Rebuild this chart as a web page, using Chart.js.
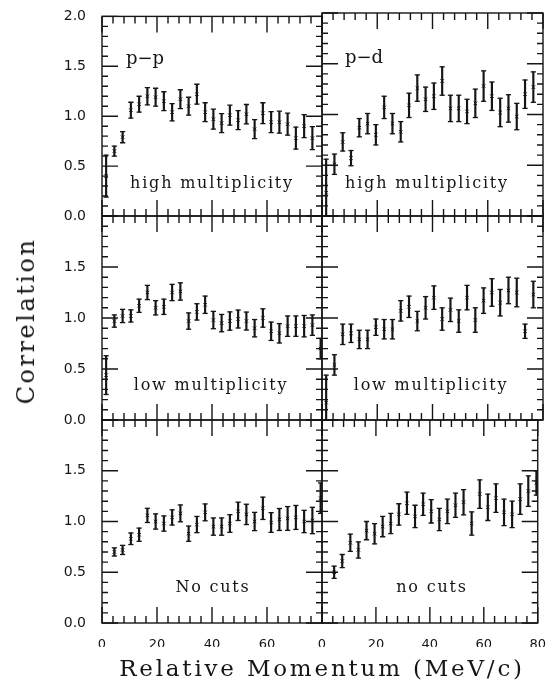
<!DOCTYPE html>
<html>
<head>
<meta charset="utf-8">
<script src="https://cdn.jsdelivr.net/npm/chart.js@4.4.1/dist/chart.umd.min.js"></script>
<style>
body{margin:0;background:#fff}
#wrap{position:relative;width:552px;height:685px;overflow:hidden;background:#fff}
#wrap canvas{position:absolute;left:0;top:0}
.lbl{position:absolute;font-family:"DejaVu Serif",serif;color:#151515;white-space:nowrap;line-height:1;transform:translate(-50%,-50%)}
</style>
</head>
<body>
<div id="wrap">
  <canvas id="c0" width="552" height="685"></canvas>
  <canvas id="c1" width="552" height="685"></canvas>
  <canvas id="c2" width="552" height="685"></canvas>
  <canvas id="c3" width="552" height="685"></canvas>
  <canvas id="c4" width="552" height="685"></canvas>
  <canvas id="c5" width="552" height="685"></canvas>

  <div class="lbl" style="left:26px;top:321px;font-size:24px;letter-spacing:2.5px;transform:translate(-50%,-50%) rotate(-90deg)">Correlation</div>
  <div class="lbl" style="left:322px;top:668px;font-size:23px;letter-spacing:2.8px">Relative Momentum (MeV/c)</div>

  <div class="lbl" style="left:145px;top:58px;font-size:18px">p−p</div>
  <div class="lbl" style="left:364px;top:57px;font-size:18px">p−d</div>
  <div class="lbl" style="left:212px;top:183px;font-size:16px;letter-spacing:1.8px">high multiplicity</div>
  <div class="lbl" style="left:427px;top:183px;font-size:16px;letter-spacing:1.8px">high multiplicity</div>
  <div class="lbl" style="left:211px;top:385px;font-size:16px;letter-spacing:1.8px">low multiplicity</div>
  <div class="lbl" style="left:431px;top:385px;font-size:16px;letter-spacing:1.8px">low multiplicity</div>
  <div class="lbl" style="left:213px;top:587px;font-size:16px;letter-spacing:1.8px">No cuts</div>
  <div class="lbl" style="left:432px;top:587px;font-size:16px;letter-spacing:1.8px">no cuts</div>
</div>
<script>
// p-p, high multiplicity
const ppHighX = [1.5,4.5,7.5,10.5,13.5,16.5,19.5,22.5,25.5,28.5,31.5,34.5,37.5,40.5,43.5,46.5,49.5,52.5,55.5,58.5,61.5,64.5,67.5,70.5,73.5,76.5];
const ppHighY = [0.40,0.65,0.79,1.06,1.12,1.20,1.19,1.15,1.04,1.17,1.10,1.22,1.04,0.97,0.93,1.01,0.96,1.02,0.87,1.03,0.94,0.94,0.92,0.78,0.90,0.78];
const ppHighErr = [0.21,0.05,0.056,0.08,0.08,0.087,0.09,0.095,0.087,0.095,0.09,0.10,0.095,0.10,0.095,0.10,0.095,0.097,0.095,0.105,0.105,0.11,0.11,0.11,0.115,0.115];

// p-d, high multiplicity
const pdHighX = [1.5,4.5,7.5,10.5,13.5,16.5,19.5,22.5,25.5,28.5,31.5,34.5,37.5,40.5,43.5,46.5,49.5,52.5,55.5,58.5,61.5,64.5,67.5,70.5,73.5,76.5];
const pdHighY = [0.23,0.51,0.73,0.57,0.87,0.91,0.80,1.07,0.91,0.83,1.09,1.26,1.15,1.18,1.33,1.06,1.06,1.03,1.11,1.28,1.18,1.02,1.06,0.98,1.20,1.27];
const pdHighErr = [0.33,0.10,0.09,0.075,0.09,0.10,0.10,0.11,0.10,0.10,0.12,0.13,0.12,0.13,0.14,0.13,0.13,0.12,0.14,0.15,0.14,0.14,0.135,0.13,0.14,0.15];

// p-p, low multiplicity
const ppLowX = [1.5,4.5,7.5,10.5,13.5,16.5,19.5,22.5,25.5,28.5,31.5,34.5,37.5,40.5,43.5,46.5,49.5,52.5,55.5,58.5,61.5,64.5,67.5,70.5,73.5,76.5,79.5];
const ppLowY = [0.44,0.97,1.02,1.02,1.12,1.25,1.10,1.11,1.25,1.26,0.97,1.06,1.13,0.98,0.95,0.97,0.99,0.97,0.90,1.00,0.87,0.85,0.92,0.92,0.92,0.93,0.70];
const ppLowErr = [0.19,0.06,0.065,0.06,0.065,0.07,0.07,0.075,0.08,0.085,0.08,0.08,0.085,0.085,0.085,0.09,0.088,0.088,0.085,0.09,0.09,0.095,0.10,0.10,0.105,0.10,0.10];

// p-d, low multiplicity
const pdLowX = [1.5,4.5,7.5,10.5,13.5,16.5,19.5,22.5,25.5,28.5,31.5,34.5,37.5,40.5,43.5,46.5,49.5,52.5,55.5,58.5,61.5,64.5,67.5,70.5,73.5,76.5];
const pdLowY = [0.17,0.54,0.84,0.85,0.79,0.79,0.91,0.89,0.89,1.07,1.11,0.97,1.10,1.20,0.99,1.08,0.97,1.20,0.98,1.17,1.25,1.15,1.27,1.25,0.87,1.23];
const pdLowErr = [0.27,0.10,0.10,0.09,0.09,0.09,0.08,0.095,0.095,0.10,0.105,0.095,0.11,0.115,0.11,0.115,0.11,0.12,0.12,0.125,0.135,0.13,0.13,0.14,0.07,0.13];

// p-p, no cuts
const ppAllX = [4.5,7.5,10.5,13.5,16.5,19.5,22.5,25.5,28.5,31.5,34.5,37.5,40.5,43.5,46.5,49.5,52.5,55.5,58.5,61.5,64.5,67.5,70.5,73.5,76.5,79.5];
const ppAllY = [0.70,0.72,0.83,0.87,1.06,1.00,0.98,1.04,1.08,0.88,0.97,1.09,0.95,0.95,0.98,1.10,1.07,1.00,1.13,0.99,1.02,1.03,1.04,1.00,1.01,1.23];
const ppAllErr = [0.04,0.045,0.057,0.065,0.07,0.075,0.075,0.075,0.083,0.075,0.08,0.083,0.085,0.085,0.087,0.09,0.10,0.09,0.11,0.097,0.108,0.117,0.118,0.11,0.13,0.15];

// p-d, no cuts
const pdAllX = [4.5,7.5,10.5,13.5,16.5,19.5,22.5,25.5,28.5,31.5,34.5,37.5,40.5,43.5,46.5,49.5,52.5,55.5,58.5,61.5,64.5,67.5,70.5,73.5,76.5,79.5];
const pdAllY = [0.50,0.61,0.79,0.72,0.91,0.88,0.95,0.98,1.07,1.18,1.05,1.17,1.10,1.02,1.10,1.16,1.19,0.98,1.27,1.14,1.23,1.09,1.07,1.22,1.30,1.38];
const pdAllErr = [0.06,0.065,0.085,0.08,0.09,0.10,0.10,0.10,0.105,0.11,0.11,0.11,0.115,0.11,0.12,0.12,0.125,0.115,0.14,0.13,0.14,0.13,0.13,0.15,0.15,0.12];

const ink = '#151515';
const colEdges = [[102, 322], [322, 543]];
const rowEdges = [[13, 216], [216, 420], [420, 623]];

// frame + inward ticks on all four sides
const frame = {
  id: 'frame',
  afterDatasetsDraw(chart) {
    const {ctx, chartArea: a, scales: {x, y}} = chart;
    ctx.save();
    ctx.strokeStyle = ink;
    ctx.lineWidth = 1.4;
    ctx.strokeRect(a.left, a.top, a.right - a.left, a.bottom - a.top);
    ctx.beginPath();
    for (let v = 0; v <= 80; v += 4) {
      const px = x.getPixelForValue(v);
      const len = v % 20 === 0 ? 16 : 7;
      ctx.moveTo(px, a.bottom); ctx.lineTo(px, a.bottom - len);
      ctx.moveTo(px, a.top); ctx.lineTo(px, a.top + len);
    }
    for (let k = 0; k <= 20; k++) {
      const py = y.getPixelForValue(k / 10);
      const len = k % 5 === 0 ? 16 : 6;
      ctx.moveTo(a.left, py); ctx.lineTo(a.left + len, py);
      ctx.moveTo(a.right, py); ctx.lineTo(a.right - len, py);
    }
    ctx.stroke();
    ctx.restore();
  }
};

function makePanel(id, col, row, xs, ys, errs) {
  const [l, r] = colEdges[col];
  const [t, b] = rowEdges[row];
  const yw = col === 0 ? 40 : 0;
  const xh = row === 2 ? 24 : 0;
  const lo = ys.map((v, i) => v - errs[i]);
  const hi = ys.map((v, i) => v + errs[i]);

  new Chart(document.getElementById(id), {
    type: 'scatter',
    data: {
      datasets: [
        {
          type: 'bar',
          data: xs.map((x, i) => ({x: x, y: [lo[i], hi[i]]})),
          backgroundColor: ink,
          borderWidth: 0,
          barThickness: 1.5,
          grouped: false
        },
        {
          data: xs.map((x, i) => ({x: x, y: lo[i]})),
          pointStyle: 'line', pointRadius: 2.6, borderColor: ink, borderWidth: 1.3
        },
        {
          data: xs.map((x, i) => ({x: x, y: hi[i]})),
          pointStyle: 'line', pointRadius: 2.6, borderColor: ink, borderWidth: 1.3
        },
        {
          data: xs.map((x, i) => ({x: x, y: ys[i]})),
          pointStyle: 'crossRot', pointRadius: 2.4, borderColor: ink, borderWidth: 1
        }
      ]
    },
    options: {
      responsive: false,
      animation: false,
      devicePixelRatio: 1,
      events: [],
      layout: {padding: {left: l - yw, right: 552 - r, top: t, bottom: 685 - b - xh}},
      plugins: {legend: {display: false}, tooltip: {enabled: false}},
      scales: {
        x: {
          type: 'linear', min: 0, max: 80, offset: false,
          grid: {display: false}, border: {display: false},
          ticks: {
            display: row === 2, stepSize: 20, autoSkip: false, maxRotation: 0, padding: 6,
            color: ink, font: {family: 'DejaVu Sans', size: 13},
            callback: v => (col === 0 && v === 80) ? '' : v
          },
          afterFit: s => { s.height = xh; }
        },
        y: {
          type: 'linear', min: 0, max: 2,
          grid: {display: false}, border: {display: false},
          ticks: {
            display: col === 0, stepSize: 0.5, padding: 8,
            color: ink, font: {family: 'DejaVu Sans', size: 14},
            callback: v => (row > 0 && v === 2) ? '' : v.toFixed(1)
          },
          afterFit: s => { s.width = yw; }
        }
      }
    },
    plugins: [frame]
  });
}

makePanel('c0', 0, 0, ppHighX, ppHighY, ppHighErr);
makePanel('c1', 1, 0, pdHighX, pdHighY, pdHighErr);
makePanel('c2', 0, 1, ppLowX, ppLowY, ppLowErr);
makePanel('c3', 1, 1, pdLowX, pdLowY, pdLowErr);
makePanel('c4', 0, 2, ppAllX, ppAllY, ppAllErr);
makePanel('c5', 1, 2, pdAllX, pdAllY, pdAllErr);
</script>
</body>
</html>
